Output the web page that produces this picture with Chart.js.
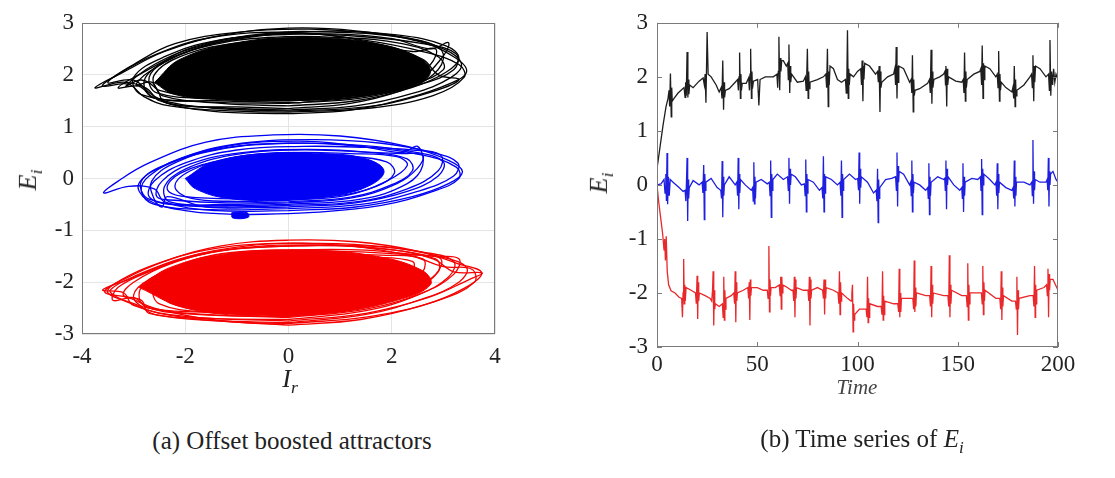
<!DOCTYPE html>
<html>
<head>
<meta charset="utf-8">
<script src="https://cdn.jsdelivr.net/npm/chart.js@4.4.1/dist/chart.umd.min.js"></script>
<style>
body { margin: 0; background: #fff; width: 1115px; height: 478px; position: relative; overflow: hidden;
       font-family: 'Liberation Serif', 'Times New Roman', serif; color: #222; }
canvas { position: absolute; top: 0; }
#left { left: 0; }
#right { left: 560px; }
.lbl { position: absolute; font-style: italic; font-size: 26px; white-space: nowrap; transform: translate(-50%, -50%); }
.rot { transform: translate(-50%, -50%) rotate(-90deg); }
.cap { position: absolute; top: 441px; font-size: 25px; white-space: nowrap; transform: translate(-50%, -50%); }
sub { font-size: 68%; }
</style>
</head>
<body>
<canvas id="left" width="560" height="400"></canvas>
<canvas id="right" width="555" height="400"></canvas>

<div class="lbl rot" style="left:30px;top:180px">E<sub>i</sub></div>
<div class="lbl" style="left:290px;top:381px">I<sub>r</sub></div>
<div class="lbl rot" style="left:601px;top:183px">E<sub>i</sub></div>
<div class="lbl" style="left:857px;top:387px;font-size:21px;color:#444">Time</div>
<div class="cap" style="left:292px">(a) Offset boosted attractors</div>
<div class="cap" style="left:862px">(b) Time series of <i>E<sub>i</sub></i></div>

<script>
// ---- (a) attractor: I_r vs E_i, loops ----
const attractorXTicks = [-4, -2, 0, 2, 4];
const eiTicks = [-3, -2, -1, 0, 1, 2, 3];

const blackCore = [[-2.6,1.85],[-2.1,2.3],[-1.0,2.62],[0.3,2.72],[1.6,2.62],[2.5,2.35],[2.75,2.05],[2.4,1.78],[1.3,1.58],[0,1.5],[-1.3,1.52],[-2.2,1.62],[-2.6,1.85]];
const blackLoops = [
  [[0,1.25],[1.2,1.32],[2.3,1.55],[3.1,1.82],[3.45,2.06],[3.2,2.35],[2.5,2.65],[1.3,2.85],[0,2.9],[-1.3,2.76],[-2.4,2.45],[-3.2,2.05],[-3.75,1.75],[-3.2,1.86],[-2.75,1.74],[-2.5,1.5],[-1.5,1.3],[0,1.25]],
  [[0,1.32],[1.3,1.4],[2.4,1.64],[3.15,1.95],[3.35,2.22],[3.0,2.5],[2.2,2.72],[1.0,2.82],[-0.4,2.8],[-1.7,2.56],[-2.6,2.2],[-3.15,1.78],[-2.85,1.9],[-2.55,1.72],[-2.4,1.47],[-1.2,1.36],[0,1.32]],
  [[0,1.4],[1.3,1.5],[2.4,1.76],[3.05,2.05],[3.3,2.32],[3.05,2.56],[2.1,2.77],[0.6,2.84],[-0.8,2.72],[-1.9,2.46],[-2.7,2.06],[-2.95,1.8],[-2.65,1.86],[-2.45,1.6],[-1.3,1.45],[0,1.4]],
  [[0.2,1.46],[1.5,1.6],[2.5,1.9],[2.95,2.3],[3.1,2.62],[2.75,2.5],[2.0,2.7],[0.8,2.79],[-0.6,2.76],[-1.8,2.55],[-2.5,2.2],[-2.8,1.86],[-2.6,1.56],[-1.4,1.5],[0.2,1.46]],
  [[0,1.5],[1.4,1.58],[2.4,1.82],[3.0,2.1],[2.9,2.35],[2.2,2.6],[1.0,2.72],[-0.4,2.72],[-1.6,2.55],[-2.4,2.25],[-2.7,1.95],[-2.55,1.65],[-1.4,1.54],[0,1.5]],
  [[0,1.56],[1.3,1.64],[2.3,1.9],[2.75,2.2],[2.85,2.5],[2.4,2.45],[1.5,2.62],[0.2,2.68],[-1.1,2.6],[-2.1,2.35],[-2.6,2.0],[-2.5,1.7],[-1.3,1.6],[0,1.56]],
  [[0,1.3],[1.5,1.38],[2.6,1.62],[3.3,1.9],[2.9,2.0],[2.6,2.3],[1.7,2.6],[0.3,2.8],[-1.0,2.7],[-2.1,2.4],[-2.9,2.0],[-3.3,1.75],[-2.9,1.78],[-2.6,1.55],[-1.5,1.36],[0,1.3]],
  [[0,1.35],[1.2,1.45],[2.2,1.7],[2.8,2.0],[3.0,2.4],[2.7,2.62],[1.8,2.78],[0.4,2.88],[-1.0,2.82],[-2.2,2.6],[-3.0,2.2],[-3.5,1.85],[-3.0,1.9],[-2.65,1.62],[-2.2,1.42],[-1.0,1.38],[0,1.35]],
  [[0,1.45],[1.4,1.55],[2.5,1.8],[3.2,2.1],[3.25,2.4],[2.6,2.6],[1.4,2.74],[0,2.78],[-1.4,2.66],[-2.4,2.35],[-3.0,1.95],[-2.85,1.62],[-1.6,1.48],[0,1.45]],
  [[0,1.28],[1.6,1.36],[2.8,1.6],[3.4,1.95],[3.3,2.2],[2.6,2.45],[1.4,2.68],[0,2.82],[-1.5,2.72],[-2.6,2.38],[-3.4,1.95],[-3.6,1.78],[-3.1,1.82],[-2.8,1.58],[-2.3,1.4],[-1.0,1.3],[0,1.28]]
];

const blueCore = [[-2.0,0.0],[-1.5,0.3],[-0.5,0.48],[0.7,0.48],[1.5,0.38],[1.85,0.15],[1.6,-0.12],[0.9,-0.33],[-0.2,-0.42],[-1.2,-0.38],[-1.8,-0.2],[-2.0,0.0]];
const blueBlob = [[-1.1,-0.66],[-0.8,-0.66],[-0.78,-0.75],[-1.08,-0.76],[-1.1,-0.66]];
const blueLoops = [
  [[0,-0.62],[1.3,-0.55],[2.4,-0.35],[3.1,-0.1],[3.37,0.13],[3.1,0.35],[2.3,0.62],[1.0,0.82],[-0.3,0.84],[-1.6,0.7],[-2.7,0.3],[-3.3,-0.05],[-3.58,-0.28],[-3.1,-0.15],[-2.6,-0.2],[-2.4,-0.45],[-1.4,-0.62],[0,-0.62]],
  [[0,-0.58],[1.4,-0.5],[2.5,-0.25],[3.2,0.05],[3.28,0.3],[2.8,0.5],[1.8,0.68],[0.5,0.75],[-0.9,0.68],[-2.0,0.42],[-2.7,0.05],[-2.85,-0.25],[-2.6,-0.5],[-1.5,-0.6],[0,-0.58]],
  [[0,-0.52],[1.3,-0.45],[2.3,-0.2],[2.9,0.15],[2.95,0.45],[2.4,0.55],[1.5,0.6],[0.3,0.62],[-1.0,0.55],[-2.0,0.3],[-2.6,-0.05],[-2.7,-0.35],[-2.3,-0.5],[-1.2,-0.55],[0,-0.52]],
  [[0,-0.47],[1.2,-0.38],[2.1,-0.1],[2.5,0.2],[2.6,0.45],[2.2,0.48],[1.3,0.52],[0.1,0.55],[-1.1,0.45],[-2.0,0.18],[-2.4,-0.15],[-2.3,-0.45],[-1.2,-0.5],[0,-0.47]],
  [[0,-0.42],[1.1,-0.33],[1.9,-0.05],[2.3,0.25],[2.1,0.42],[1.2,0.48],[0,0.5],[-1.1,0.4],[-1.9,0.15],[-2.2,-0.15],[-1.9,-0.38],[-1.0,-0.44],[0,-0.42]],
  [[-1.0,-0.7],[0.4,-0.66],[1.8,-0.52],[2.8,-0.25],[3.3,0.0],[3.25,0.22],[2.6,0.45],[1.4,0.62],[0,0.68],[-1.4,0.55],[-2.4,0.25],[-2.9,-0.1],[-2.75,-0.4],[-2.0,-0.62],[-1.0,-0.7]],
  [[0,-0.5],[1.4,-0.4],[2.3,-0.1],[2.6,0.25],[2.5,0.62],[2.2,0.5],[1.4,0.62],[0.2,0.72],[-1.2,0.62],[-2.3,0.3],[-2.85,-0.05],[-2.7,-0.4],[-1.5,-0.52],[0,-0.5]],
  [[0,-0.55],[1.3,-0.47],[2.3,-0.25],[2.9,0.05],[3.0,0.32],[2.5,0.5],[1.4,0.64],[0,0.68],[-1.3,0.58],[-2.2,0.3],[-2.65,-0.05],[-2.6,-0.4],[-2.45,-0.55],[-2.35,-0.35],[-1.6,-0.55],[0,-0.55]],
  [[0,-0.45],[1.2,-0.36],[2.0,-0.12],[2.4,0.15],[2.3,0.38],[1.6,0.5],[0.4,0.56],[-0.9,0.5],[-1.9,0.28],[-2.45,-0.05],[-2.55,-0.35],[-2.2,-0.42],[-1.2,-0.47],[0,-0.45]],
  [[-0.5,-0.4],[0.8,-0.35],[1.7,-0.15],[2.05,0.1],[1.9,0.32],[1.1,0.43],[0,0.45],[-1.2,0.36],[-2.1,0.1],[-2.35,-0.2],[-2.0,-0.35],[-0.5,-0.4]]
];

const redCore = [[-2.9,-2.1],[-2.3,-1.72],[-1.2,-1.45],[0.3,-1.38],[1.7,-1.5],[2.6,-1.78],[2.75,-2.05],[2.1,-2.35],[0.8,-2.6],[-0.6,-2.65],[-2.0,-2.5],[-2.9,-2.1]];
const redLoops = [
  [[0,-2.83],[1.4,-2.72],[2.6,-2.45],[3.4,-2.12],[3.74,-1.82],[3.3,-1.65],[2.5,-1.4],[1.3,-1.22],[0,-1.19],[-1.3,-1.3],[-2.4,-1.6],[-3.2,-1.95],[-3.56,-2.19],[-3.1,-2.3],[-2.6,-2.5],[-1.5,-2.72],[0,-2.83]],
  [[0,-2.78],[1.5,-2.62],[2.6,-2.32],[3.3,-2.0],[3.45,-1.72],[2.9,-1.5],[1.9,-1.32],[0.6,-1.25],[-0.8,-1.3],[-2.0,-1.52],[-2.9,-1.85],[-3.45,-2.15],[-3.3,-2.3],[-2.9,-2.45],[-2.6,-2.62],[-1.5,-2.74],[0,-2.78]],
  [[0,-2.72],[1.5,-2.55],[2.5,-2.25],[3.1,-1.9],[3.2,-1.6],[2.6,-1.42],[1.5,-1.3],[0.2,-1.3],[-1.2,-1.38],[-2.3,-1.65],[-3.0,-2.0],[-3.2,-2.25],[-2.85,-2.35],[-2.7,-2.6],[-1.5,-2.7],[0,-2.72]],
  [[0,-2.66],[1.4,-2.5],[2.3,-2.2],[2.85,-1.85],[2.95,-1.55],[2.5,-1.48],[1.5,-1.38],[0,-1.38],[-1.3,-1.45],[-2.3,-1.75],[-2.85,-2.1],[-2.8,-2.45],[-1.8,-2.62],[0,-2.66]],
  [[0,-2.6],[1.3,-2.45],[2.2,-2.1],[2.6,-1.8],[2.6,-1.55],[1.8,-1.48],[0.5,-1.45],[-0.9,-1.5],[-2.0,-1.75],[-2.6,-2.1],[-2.5,-2.42],[-1.5,-2.58],[0,-2.6]],
  [[0,-2.75],[1.5,-2.6],[2.7,-2.3],[3.5,-1.95],[3.75,-1.82],[3.2,-1.8],[2.8,-1.55],[1.8,-1.35],[0.4,-1.28],[-1.0,-1.35],[-2.2,-1.6],[-3.1,-1.95],[-3.6,-2.15],[-3.2,-2.2],[-3.0,-2.45],[-2.0,-2.66],[0,-2.75]],
  [[0,-2.55],[1.2,-2.4],[2.1,-2.1],[2.4,-1.8],[2.4,-1.6],[1.6,-1.52],[0.4,-1.5],[-0.9,-1.56],[-1.9,-1.8],[-2.4,-2.1],[-2.3,-2.4],[-1.4,-2.52],[0,-2.55]],
  [[0,-2.68],[1.5,-2.52],[2.6,-2.2],[3.2,-1.85],[3.3,-1.55],[2.8,-1.5],[2.2,-1.4],[1.0,-1.3],[-0.4,-1.32],[-1.7,-1.45],[-2.7,-1.8],[-3.3,-2.1],[-3.4,-2.35],[-3.0,-2.3],[-2.7,-2.5],[-1.6,-2.62],[0,-2.68]],
  [[0,-2.62],[1.4,-2.47],[2.4,-2.15],[2.9,-1.8],[2.85,-1.55],[2.0,-1.45],[0.8,-1.4],[-0.6,-1.42],[-1.8,-1.6],[-2.7,-1.95],[-3.0,-2.25],[-2.8,-2.48],[-1.6,-2.58],[0,-2.62]],
  [[0,-2.8],[1.6,-2.66],[2.9,-2.35],[3.6,-2.0],[3.55,-1.75],[3.0,-1.7],[2.4,-1.5],[1.2,-1.3],[-0.2,-1.25],[-1.6,-1.38],[-2.7,-1.7],[-3.4,-2.05],[-3.5,-2.2],[-3.2,-2.35],[-2.5,-2.6],[-1.2,-2.76],[0,-2.8]]
];

// ---- (b) time series of E_i, [time, value] ----
const timeTicks = [0, 50, 100, 150, 200];

const blackSeries = [
  [0,0.3],[1.5,0.7],[3,1.1],[4.5,1.45],[5.5,1.6],
  [6,1.75],[6.3,1.45],[6.7,2.06],[7.1,1.26],[7.35,1.8],[7.6,1.55],[8.5,1.6],[10.5,1.7],
  [13.5,1.8],[14,1.62],[14.3,1.9],[14.6,1.65],[15,2.46],[15.4,1.62],[15.65,1.95],[15.9,1.68],[16.3,1.85],[18,1.8],[21,1.92],
  [23,1.98],[23.6,1.85],[24,2.05],[24.4,1.52],[25,2.83],[25.5,2.05],[27,2.0],[29.5,1.85],[31,1.72],
  [32,1.8],[32.4,1.6],[32.8,2.3],[33.2,1.39],[33.45,1.9],[33.7,1.62],[34.1,1.75],[36,1.78],[39,1.9],
  [40.2,1.95],[40.6,1.75],[40.9,2.0],[41.2,2.45],[41.6,1.6],[41.85,2.05],[42.1,1.75],[42.5,1.88],[44.5,1.88],
  [45.7,1.98],[46.1,1.75],[46.4,2.05],[46.7,2.52],[47.1,1.6],[47.35,2.1],[47.6,1.78],[48.1,1.92],[50.2,1.95],[50.8,1.47],[51.4,1.95],[54,2.0],[58,2.0],
  [59.8,2.05],[60.2,1.8],[60.5,2.1],[60.8,2.74],[61.2,1.75],[61.5,2.35],[61.8,2.1],[62.2,2.3],[63,2.3],[64.5,2.2],
  [65.2,2.25],[65.5,1.95],[65.8,2.6],[66.2,1.7],[66.45,2.2],[66.7,1.9],[67.1,2.05],[70,1.9],[73,1.92],
  [74,2.0],[74.4,1.75],[74.7,2.05],[75,2.52],[75.4,1.6],[75.65,2.1],[75.9,1.78],[76.3,1.9],[80,1.95],[83,2.0],
  [84.2,2.05],[84.6,1.8],[85,2.52],[85.4,1.45],[85.65,2.1],[85.9,1.85],[86.3,2.2],[88,2.15],[90,1.95],[92,1.9],
  [94,1.95],[94.4,1.7],[94.7,2.0],[95,2.86],[95.4,1.6],[95.65,2.15],[95.9,1.85],[96.3,2.05],[98,2.0],[100,2.1],
  [101.6,2.15],[102,1.85],[102.3,2.3],[102.7,1.55],[102.95,2.2],[103.2,1.95],[103.6,2.25],[106,2.2],[109,2.05],
  [110,2.1],[110.4,1.9],[110.8,2.2],[111.2,1.35],[111.45,2.1],[111.7,1.8],[112.1,1.9],[115,2.0],[118,2.05],
  [118.6,2.15],[119,1.85],[119.3,2.55],[119.7,1.6],[119.95,2.2],[120.2,1.9],[120.6,2.2],[123,2.15],[126,1.9],
  [126.7,1.95],[127.1,1.7],[127.4,2.4],[127.8,1.35],[128.05,1.95],[128.3,1.65],[128.7,1.75],[131,1.78],[135,1.88],
  [135.9,1.95],[136.3,1.7],[136.7,2.5],[137.1,1.5],[137.35,2.1],[137.6,1.8],[138.1,1.95],[141,2.0],[143,2.05],
  [143.6,2.1],[143.9,1.85],[144.1,2.2],[144.5,1.45],[144.75,2.15],[145,1.85],[145.4,2.0],[149,1.92],[152,1.9],
  [152.7,1.95],[153.1,1.7],[153.4,2.45],[153.8,1.55],[154.05,2.1],[154.3,1.8],[154.7,1.95],[158,2.05],[161,2.1],
  [161.5,2.15],[161.9,1.85],[162.2,2.58],[162.6,1.6],[162.85,2.25],[163.1,1.95],[163.5,2.2],[166,2.15],[169,2.0],
  [169.7,2.05],[170.1,1.8],[170.4,2.48],[170.8,1.55],[171.05,2.05],[171.3,1.75],[171.7,1.9],[174,1.8],[177,1.72],
  [177.5,1.8],[177.9,1.6],[178.2,2.2],[178.6,1.45],[178.85,1.95],[179.1,1.65],[179.5,1.75],[183,1.85],[186,2.0],
  [186.8,2.05],[187.2,1.8],[187.5,2.4],[187.9,1.55],[188.15,2.2],[188.4,1.9],[188.8,2.2],[191,2.15],[194,2.0],
  [195.3,2.05],[195.7,1.75],[196,2.68],[196.4,1.65],[196.8,2.1],[197.3,1.85],[197.8,2.15],[198.4,1.9],[199,2.05],[200,1.95]
];

const blueSeries = [
  [0,0],[2,0.02],[3.5,0.1],[4,-0.15],[4.4,0.2],[4.7,-0.3],[5,0.59],[5.3,-0.36],[5.7,0.15],[6.1,-0.2],[6.6,0.1],[8,0.05],[11,-0.05],[13,-0.12],
  [14,-0.1],[14.4,-0.3],[14.7,0.05],[15,0.5],[15.3,-0.67],[15.55,0.1],[15.8,-0.25],[16.1,-0.05],[18,0.08],[21,0.0],
  [22.5,0.05],[22.9,-0.15],[23.3,0.37],[23.6,-0.64],[23.85,0.2],[24.1,-0.1],[24.4,0.05],[27,0.12],[30,-0.05],
  [31.8,-0.1],[32.2,-0.25],[32.5,0.44],[32.8,-0.6],[33.05,0.15],[33.3,-0.2],[33.6,0.0],[36,0.15],[39,0.0],
  [39.8,0.05],[40.2,-0.2],[40.5,0.5],[40.8,-0.45],[41.05,0.2],[41.3,-0.15],[41.6,0.1],[44,0.0],[47,-0.1],
  [47.7,-0.05],[48,-0.3],[48.3,0.42],[48.6,-0.35],[48.85,0.15],[49.1,-0.25],[49.4,0.05],[52,0.1],[55,0.02],
  [56,0.05],[56.4,-0.2],[56.7,0.45],[57,-0.6],[57.25,0.2],[57.5,-0.1],[57.8,0.1],[60,0.2],[63,0.1],
  [65.1,0.15],[65.5,-0.1],[65.8,0.5],[66.1,-0.35],[66.35,0.3],[66.6,0.0],[66.9,0.2],[69,0.15],[72,0.0],
  [73.5,0.02],[73.9,-0.2],[74.2,0.47],[74.5,-0.5],[74.75,0.2],[75,-0.15],[75.3,0.1],[78,0.05],[81,-0.1],
  [82.3,-0.05],[82.7,-0.25],[83,0.53],[83.3,-0.5],[83.55,0.2],[83.8,-0.15],[84.1,0.15],[87,0.1],[90,0.0],
  [91.3,0.05],[91.7,-0.2],[92,0.45],[92.3,-0.6],[92.55,0.2],[92.8,-0.1],[93.1,0.1],[96,0.2],[99,0.1],
  [100.1,0.12],[100.5,-0.1],[100.8,0.6],[101.1,-0.35],[101.35,0.3],[101.6,-0.05],[101.9,0.15],[105,0.05],[108,-0.15],
  [109.3,-0.1],[109.7,-0.3],[110,0.3],[110.3,-0.7],[110.55,0.1],[110.8,-0.25],[111.1,-0.05],[114,0.1],[117,0.12],
  [119,0.15],[119.4,-0.1],[119.7,0.6],[120,-0.4],[120.25,0.35],[120.5,0.05],[120.8,0.25],[123,0.2],[126,0.0],
  [126.5,0.05],[126.8,-0.2],[127.1,0.45],[127.4,-0.5],[127.65,0.2],[127.9,-0.15],[128.2,0.05],[131,0.0],[134,-0.1],
  [135,-0.05],[135.3,-0.25],[135.6,0.4],[135.9,-0.55],[136.15,0.15],[136.4,-0.2],[136.7,0.05],[140,0.15],[143,0.1],
  [143.5,0.12],[143.8,-0.1],[144.1,0.45],[144.4,-0.45],[144.65,0.3],[144.9,0.0],[145.2,0.15],[148,0.0],[151,-0.1],
  [152,-0.05],[152.3,-0.25],[152.6,0.4],[152.9,-0.5],[153.15,0.15],[153.4,-0.2],[153.7,0.05],[157,0.12],[160,0.1],
  [161.3,0.15],[161.6,-0.1],[161.9,0.48],[162.2,-0.55],[162.45,0.3],[162.7,0.0],[163,0.2],[166,0.1],[168.5,0.0],
  [169.1,0.05],[169.4,-0.2],[169.7,0.4],[170,-0.45],[170.25,0.2],[170.5,-0.15],[170.8,0.05],[174,-0.05],[177,-0.1],
  [177.6,-0.05],[177.9,-0.25],[178.2,0.45],[178.5,-0.4],[178.75,0.15],[179,-0.2],[179.3,0.05],[183,0.05],[186,0.0],
  [186.9,0.05],[187.2,-0.2],[187.5,0.83],[187.8,-0.35],[188.05,0.25],[188.3,-0.1],[188.6,0.1],[191,0.05],[194,0.05],
  [194.6,0.1],[194.9,-0.1],[195.2,0.5],[195.5,-0.4],[195.75,0.25],[196,0.0],[196.3,0.2],[197.5,0.25],[199,0.1],[200,0.05]
];

const redSeries = [
  [0,0],[0.8,-0.3],[1.8,-0.6],[2.8,-0.9],[3.5,-1.2],[3.8,-1.0],[4.2,-1.4],[4.6,-0.95],[5.1,-1.6],[5.8,-1.85],[7,-1.96],[9,-2.0],[11,-2.08],
  [12.3,-2.1],[12.7,-2.45],[13,-2.0],[13.3,-1.37],[13.6,-2.2],[13.85,-1.85],[14.1,-2.15],[14.5,-1.9],[17,-1.95],
  [19.2,-2.0],[19.6,-2.2],[20,-1.68],[20.3,-2.48],[20.55,-1.8],[20.8,-2.15],[21.1,-2.0],[24,-2.05],[26.5,-2.1],
  [27.3,-2.15],[27.7,-1.95],[28,-1.6],[28.3,-2.6],[28.55,-1.95],[28.8,-2.3],[29.1,-2.2],[31,-2.25],
  [32.6,-2.2],[33,-2.45],[33.3,-1.7],[33.6,-2.5],[33.85,-1.95],[34.1,-2.3],[34.4,-2.1],[37,-2.05],
  [38.3,-2.0],[38.7,-2.2],[39,-1.6],[39.3,-2.54],[39.55,-1.8],[39.8,-2.15],[40.1,-2.0],[43,-1.95],
  [45.3,-1.9],[45.7,-2.1],[46,-1.8],[46.3,-2.5],[46.55,-1.75],[46.8,-2.05],[47.1,-1.9],[50,-1.9],[53,-1.95],
  [55,-1.95],[55.4,-2.1],[55.8,-1.13],[56.1,-2.35],[56.35,-1.75],[56.6,-2.05],[56.9,-1.9],[59,-1.9],
  [61,-1.85],[61.4,-2.05],[61.7,-1.7],[62,-2.3],[62.25,-1.7],[62.5,-2.0],[62.8,-1.85],[65,-1.9],[67,-1.95],
  [67.8,-1.95],[68.2,-2.15],[68.5,-1.7],[68.8,-2.45],[69.05,-1.75],[69.3,-2.1],[69.6,-1.9],[73,-1.95],
  [75.3,-1.95],[75.7,-2.15],[76,-1.7],[76.3,-2.6],[76.55,-1.75],[76.8,-2.1],[77.1,-1.95],[80,-1.9],
  [82.6,-1.95],[83,-2.1],[83.3,-1.75],[83.6,-2.4],[83.85,-1.75],[84.1,-2.1],[84.4,-1.9],[88,-1.95],
  [90.3,-2.0],[90.7,-2.2],[91,-1.6],[91.3,-2.4],[91.55,-1.8],[91.8,-2.15],[92.1,-2.0],[95,-2.1],
  [96.8,-2.15],[97.2,-2.0],[97.5,-1.85],[97.8,-2.72],[98.05,-2.2],[98.3,-2.5],[98.6,-2.4],[101,-2.3],
  [104.3,-2.3],[104.7,-2.45],[105,-1.7],[105.3,-2.55],[105.55,-2.1],[105.8,-2.45],[106.1,-2.2],[110,-2.25],
  [111.8,-2.25],[112.2,-2.4],[112.5,-1.6],[112.8,-2.5],[113.05,-2.05],[113.3,-2.4],[113.6,-2.15],[118,-2.2],
  [120.1,-2.2],[120.5,-2.35],[120.8,-1.55],[121.1,-2.45],[121.35,-2.0],[121.6,-2.35],[121.9,-2.1],[126,-2.1],
  [127.6,-2.1],[128,-2.3],[128.3,-1.4],[128.6,-2.35],[128.85,-1.9],[129.1,-2.25],[129.4,-2.0],[134,-2.05],
  [136,-2.05],[136.4,-2.25],[136.7,-1.5],[137,-2.45],[137.25,-1.85],[137.5,-2.2],[137.8,-2.0],[143,-2.05],
  [145.1,-2.05],[145.5,-2.25],[145.8,-1.3],[146.1,-2.45],[146.35,-1.85],[146.6,-2.2],[146.9,-1.95],[152,-2.05],
  [154.3,-2.05],[154.7,-2.25],[155,-1.45],[155.3,-2.5],[155.55,-1.85],[155.8,-2.2],[156.1,-2.0],[160,-2.0],
  [161.8,-2.0],[162.2,-2.2],[162.5,-1.5],[162.8,-2.4],[163.05,-1.8],[163.3,-2.15],[163.6,-1.95],[169,-2.1],
  [171,-2.1],[171.4,-2.3],[171.7,-1.6],[172,-2.5],[172.25,-1.9],[172.5,-2.25],[172.8,-2.05],[177,-2.15],
  [178.8,-2.15],[179.2,-2.3],[179.5,-1.7],[179.8,-2.78],[180.05,-1.95],[180.3,-2.3],[180.6,-2.1],[186,-2.05],
  [187.6,-2.05],[188,-2.25],[188.3,-1.5],[188.6,-2.45],[188.85,-1.85],[189.1,-2.2],[189.4,-1.95],[193,-1.9],
  [194.3,-1.85],[194.7,-2.05],[195,-1.55],[195.3,-2.45],[195.55,-1.65],[195.8,-1.95],[196.1,-1.75],[197.5,-1.75],[200,-1.95]
];

const FONT = { family: "'Liberation Serif', 'Times New Roman', serif", size: 23 };
const toXY = arr => arr.map(p => ({ x: p[0], y: p[1] }));

// box round the plot area, with inward tick marks like MATLAB
const framePlugin = {
  id: 'frame',
  afterDraw(chart, args, opts) {
    const { ctx, chartArea: a, scales } = chart;
    ctx.save();
    ctx.strokeStyle = '#7a7a7a';
    ctx.lineWidth = 1;
    if (opts.ticks) {
      ctx.beginPath();
      scales.x.ticks.forEach(t => {
        const px = Math.round(scales.x.getPixelForValue(t.value)) + 0.5;
        ctx.moveTo(px, a.bottom); ctx.lineTo(px, a.bottom - 5);
        ctx.moveTo(px, a.top); ctx.lineTo(px, a.top + 5);
      });
      scales.y.ticks.forEach(t => {
        const py = Math.round(scales.y.getPixelForValue(t.value)) + 0.5;
        ctx.moveTo(a.left, py); ctx.lineTo(a.left + 5, py);
        ctx.moveTo(a.right, py); ctx.lineTo(a.right - 5, py);
      });
      ctx.stroke();
    }
    ctx.strokeRect(Math.round(a.left) + 0.5, Math.round(a.top) + 0.5, Math.round(a.width) - 1, Math.round(a.height) - 1);
    ctx.restore();
  }
};

function loopSet(loops, color) {
  return loops.map(l => ({
    data: toXY(l), borderColor: color, borderWidth: 1.3, showLine: true,
    pointRadius: 0, tension: 0.4, fill: false
  }));
}
function coreSet(core, color) {
  return {
    data: toXY(core), borderColor: color, backgroundColor: color, borderWidth: 1,
    showLine: true, pointRadius: 0, tension: 0.4, fill: 'shape'
  };
}

new Chart(document.getElementById('left'), {
  type: 'scatter',
  data: {
    datasets: [
      coreSet(blackCore, '#000000'), ...loopSet(blackLoops, '#000000'),
      coreSet(blueCore, '#0000f5'), coreSet(blueBlob, '#0000f5'), ...loopSet(blueLoops, '#0000f5'),
      coreSet(redCore, '#f50000'), ...loopSet(redLoops, '#f50000')
    ]
  },
  options: {
    responsive: false, animation: false,
    layout: { padding: { left: 38, right: 65, top: 23, bottom: 26 } },
    plugins: { legend: { display: false }, tooltip: { enabled: false }, frame: { ticks: false } },
    scales: {
      x: {
        type: 'linear', min: -4, max: 4,
        afterBuildTicks: s => { s.ticks = attractorXTicks.map(v => ({ value: v })); },
        afterFit: s => { s.height = 40; },
        grid: { color: '#e4e4e4', drawTicks: false },
        border: { display: false },
        ticks: { font: FONT, color: '#222', padding: 9, maxRotation: 0 }
      },
      y: {
        min: -3, max: 3,
        afterBuildTicks: s => { s.ticks = eiTicks.map(v => ({ value: v })); },
        afterFit: s => { s.width = 44; },
        grid: { color: '#e4e4e4', drawTicks: false },
        border: { display: false },
        ticks: { font: FONT, color: '#222', padding: 8 }
      }
    }
  },
  plugins: [framePlugin]
});

function seriesSet(series, color) {
  return { data: toXY(series), borderColor: color, borderWidth: 1.3, pointRadius: 0, tension: 0, fill: false };
}

new Chart(document.getElementById('right'), {
  type: 'line',
  data: {
    datasets: [
      seriesSet(blackSeries, '#1e1e1e'),
      seriesSet(blueSeries, '#1f1fe0'),
      seriesSet(redSeries, '#e8282a')
    ]
  },
  options: {
    responsive: false, animation: false,
    layout: { padding: { left: 53, right: 57, top: 21, bottom: 13 } },
    plugins: { legend: { display: false }, tooltip: { enabled: false }, frame: { ticks: true } },
    scales: {
      x: {
        type: 'linear', min: 0, max: 200,
        afterBuildTicks: s => { s.ticks = timeTicks.map(v => ({ value: v })); },
        afterFit: s => { s.height = 40; },
        grid: { display: false, drawTicks: false },
        border: { display: false },
        ticks: { font: FONT, color: '#222', padding: 4, maxRotation: 0 }
      },
      y: {
        min: -3, max: 3,
        afterBuildTicks: s => { s.ticks = eiTicks.map(v => ({ value: v })); },
        afterFit: s => { s.width = 44; },
        grid: { display: false, drawTicks: false },
        border: { display: false },
        ticks: { font: FONT, color: '#222', padding: 9 }
      }
    }
  },
  plugins: [framePlugin]
});
</script>
</body>
</html>
